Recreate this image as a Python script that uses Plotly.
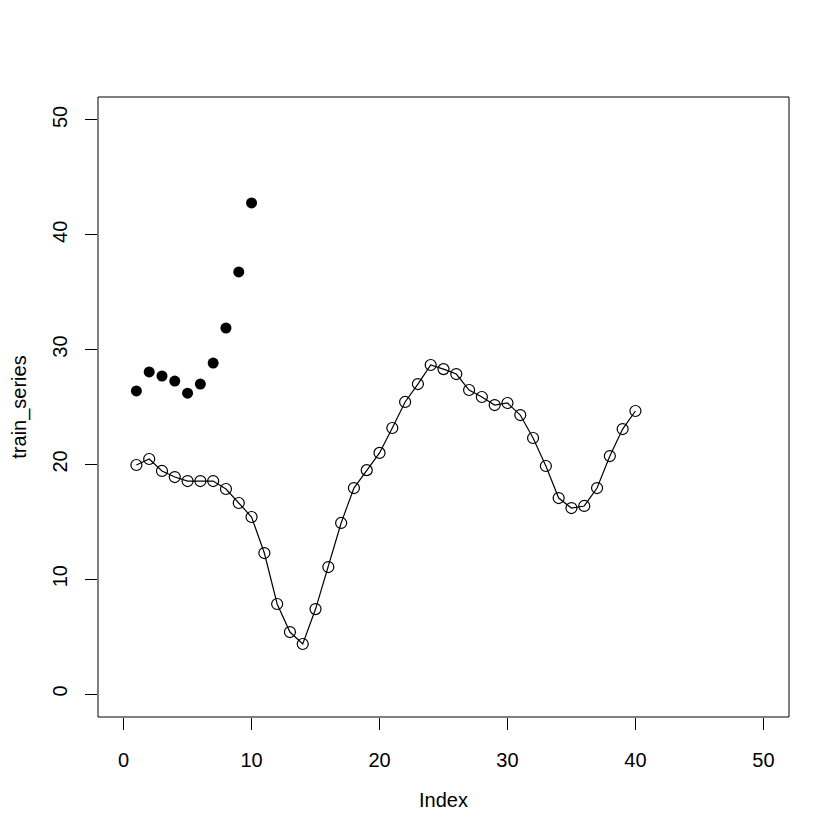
import plotly.graph_objects as go

# valores
index_train = list(range(1, 41))
train_series = [19.95, 20.47, 19.43, 18.9, 18.55, 18.55, 18.55, 17.86, 16.64, 15.42,
                12.28, 7.84, 5.4, 4.36, 7.4, 11.06, 14.9, 17.94, 19.5, 21.0,
                23.17, 25.44, 27.0, 28.66, 28.3, 27.87, 26.48, 25.87, 25.17, 25.35,
                24.3, 22.3, 19.86, 17.07, 16.2, 16.38, 17.94, 20.73, 23.08, 24.65]

index_pred = list(range(1, 11))
pred_series = [26.4, 28.05, 27.7, 27.26, 26.2, 27.0, 28.83, 31.88, 36.76, 42.77]

ticks = [0, 10, 20, 30, 40, 50]

fig = go.Figure()

fig.add_trace(go.Scatter(
    x=index_train, y=train_series,
    mode="lines+markers",
    line=dict(color="black", width=1.2),
    marker=dict(symbol="circle-open", size=11, color="black", line=dict(width=1.2)),
    showlegend=False
))

fig.add_trace(go.Scatter(
    x=index_pred, y=pred_series,
    mode="markers",
    marker=dict(symbol="circle", size=11, color="black"),
    showlegend=False
))

font = dict(family="Liberation Sans, Arial, sans-serif", size=20, color="black")

# la pagina deja 8px de margen en el body, se compensa aqui
fig.update_layout(
    width=832, height=832,
    margin=dict(l=90, r=51, t=89, b=123),
    paper_bgcolor="white", plot_bgcolor="white",
    font=font,
    xaxis=dict(
        range=[-2, 52], tickvals=ticks, showgrid=False, zeroline=False,
        ticks="outside", ticklen=12, tickwidth=1, tickcolor="black",
        showline=False, ticklabelstandoff=13, automargin=False,
        title=dict(text="Index", standoff=22, font=font)
    ),
    yaxis=dict(
        range=[-2, 52], tickvals=ticks, showgrid=False, zeroline=False,
        ticks="outside", ticklen=12, tickwidth=1, tickcolor="black",
        showline=False, tickangle=-90, ticklabelstandoff=10, automargin=False,
        title=dict(text="train_series", standoff=20, font=font)
    ),
    shapes=[dict(type="rect", xref="paper", yref="paper", x0=0, y0=0, x1=1, y1=1,
                 line=dict(color="black", width=1))]
)

fig.write_html("out.html")
